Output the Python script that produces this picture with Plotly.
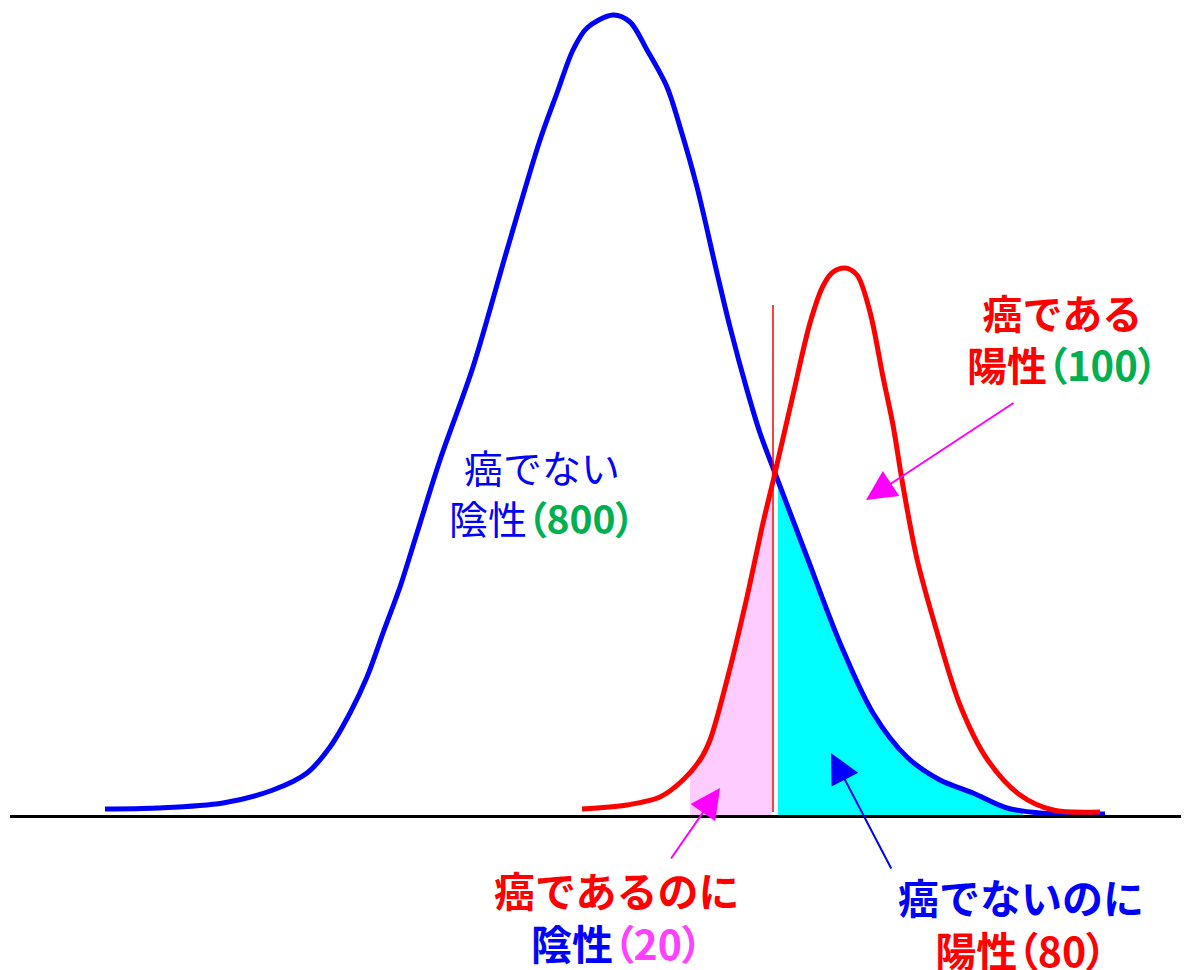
import numpy as np
import plotly.graph_objects as go

# ---- data (x position, height above baseline) ----
blue_x = [105, 157, 223, 273, 307, 330, 350, 367, 383, 400, 417, 440, 473, 507, 540, 557, 573, 587,
          613, 630, 647, 667, 680, 697, 717, 730, 747, 760, 775, 807, 840, 873, 907, 940, 973, 1007,
          1040, 1105]
blue_h = [7, 8, 13, 26, 43, 69, 103, 139, 183, 229, 283, 356, 449, 566, 676, 723, 766, 788,
          801, 794, 766, 729, 689, 629, 543, 489, 426, 383, 343, 259, 173, 103, 59, 36, 23, 8,
          3, 2]

red_x = [582, 627, 660, 683, 700, 710, 727, 747, 763, 775, 793, 810, 823, 833, 845, 857, 870,
         883, 893, 903, 917, 937, 960, 987, 1020, 1053, 1100]
red_h = [7, 11, 19, 36, 56, 76, 136, 219, 293, 343, 421, 493, 530, 544, 548, 541, 504,
         439, 391, 330, 257, 184, 111, 57, 21, 6, 4]

threshold = 773
threshold_top = 511
pink_start = 690
cyan_start = 778
cyan_end = 1023

FONT = "Noto Sans CJK JP"
BLUE, RED, GREEN, MAG, PINKTXT = "#0000FF", "#FF0000", "#00B050", "#FF00FF", "#FF40FF"

fig = go.Figure()

# pink fill (cancer but negative)
px_ = [pink_start] + [x for x in red_x if pink_start < x < threshold - 1] + [threshold - 1]
ph_ = [float(np.interp(x, red_x, red_h)) for x in px_]
fig.add_trace(go.Scatter(x=px_, y=ph_, mode="lines",
                         line=dict(width=0, shape="spline", smoothing=0.8), fill="tozeroy",
                         fillcolor="#FFCCFF", hoverinfo="skip", showlegend=False))

# cyan fill (no cancer but positive)
cx_ = [cyan_start] + [x for x in blue_x if cyan_start < x < cyan_end] + [cyan_end]
ch_ = [float(np.interp(x, blue_x, blue_h)) for x in cx_]
fig.add_trace(go.Scatter(x=cx_, y=ch_, mode="lines",
                         line=dict(width=0, shape="spline", smoothing=0.8), fill="tozeroy",
                         fillcolor="#00FFFF", hoverinfo="skip", showlegend=False))

# curves
fig.add_trace(go.Scatter(x=blue_x, y=blue_h, mode="lines",
                         line=dict(color=BLUE, width=5, shape="spline", smoothing=0.9),
                         hoverinfo="skip", showlegend=False))
fig.add_trace(go.Scatter(x=red_x, y=red_h, mode="lines",
                         line=dict(color=RED, width=5, shape="spline", smoothing=0.9),
                         hoverinfo="skip", showlegend=False))

# threshold line
fig.add_shape(type="line", x0=threshold, x1=threshold, y0=4, y1=threshold_top,
              line=dict(color=RED, width=1.5), xref="x", yref="y")
# baseline
fig.add_shape(type="line", x0=10, x1=1189, y0=-0.5, y1=-0.5,
              line=dict(color="black", width=3), xref="x", yref="y")

# arrows: (tail x, tail h, tip x, tip h, color)
arrows = [
    (1015, 414, 866, 316, MAG),
    (670, -44, 720, 28, MAG),
    (892, -54, 831, 63, BLUE),
]
for tx, th, hx, hh, col in arrows:
    fig.add_annotation(x=hx, y=hh, ax=tx, ay=th, xref="x", yref="y", axref="x", ayref="y",
                       showarrow=True, arrowhead=2, arrowsize=3, arrowwidth=2,
                       arrowcolor=col, text="")

def label(x, h, html, size=39):
    fig.add_annotation(x=x, y=h, xref="x", yref="y", text=html, showarrow=False,
                       xanchor="center", yanchor="middle", align="center",
                       font=dict(family=FONT, size=size))

P = 'font-feature-settings:"palt"'
label(542, 816 - 491.5,
      f"<span style='color:{BLUE}'>癌でない</span><br>"
      f"<span style='color:{BLUE}'>陰性</span><b><span style='color:{GREEN};{P}'>（800）</span></b>")

label(1062, 816 - 338,
      f"<b><span style='color:{RED}'>癌である</span></b><br>"
      f"<b><span style='color:{RED}'>陽性</span><span style='color:{GREEN};{P}'>（100）</span></b>", 40)

label(617, 816 - 915.5,
      f"<b><span style='color:{RED}'>癌であるのに</span></b><br>"
      f"<b><span style='color:{BLUE}'>陰性</span><span style='color:{PINKTXT};{P}'>（20）</span></b>", 41)

label(1021, 816 - 922,
      f"<b><span style='color:{BLUE}'>癌でないのに</span></b><br>"
      f"<b><span style='color:{RED}'>陽性<span style='{P}'>（80）</span></span></b>", 41)

# page has an 8px body margin: figure spans page pixels 8..1189 x 8..970
fig.update_layout(
    width=1181, height=962, margin=dict(l=0, r=0, t=0, b=0),
    paper_bgcolor="white", plot_bgcolor="white",
    xaxis=dict(range=[8, 1189], visible=False, fixedrange=True),
    yaxis=dict(range=[-154, 808], visible=False, fixedrange=True),
    font=dict(family=FONT),
)

fig.write_html("out.html")
